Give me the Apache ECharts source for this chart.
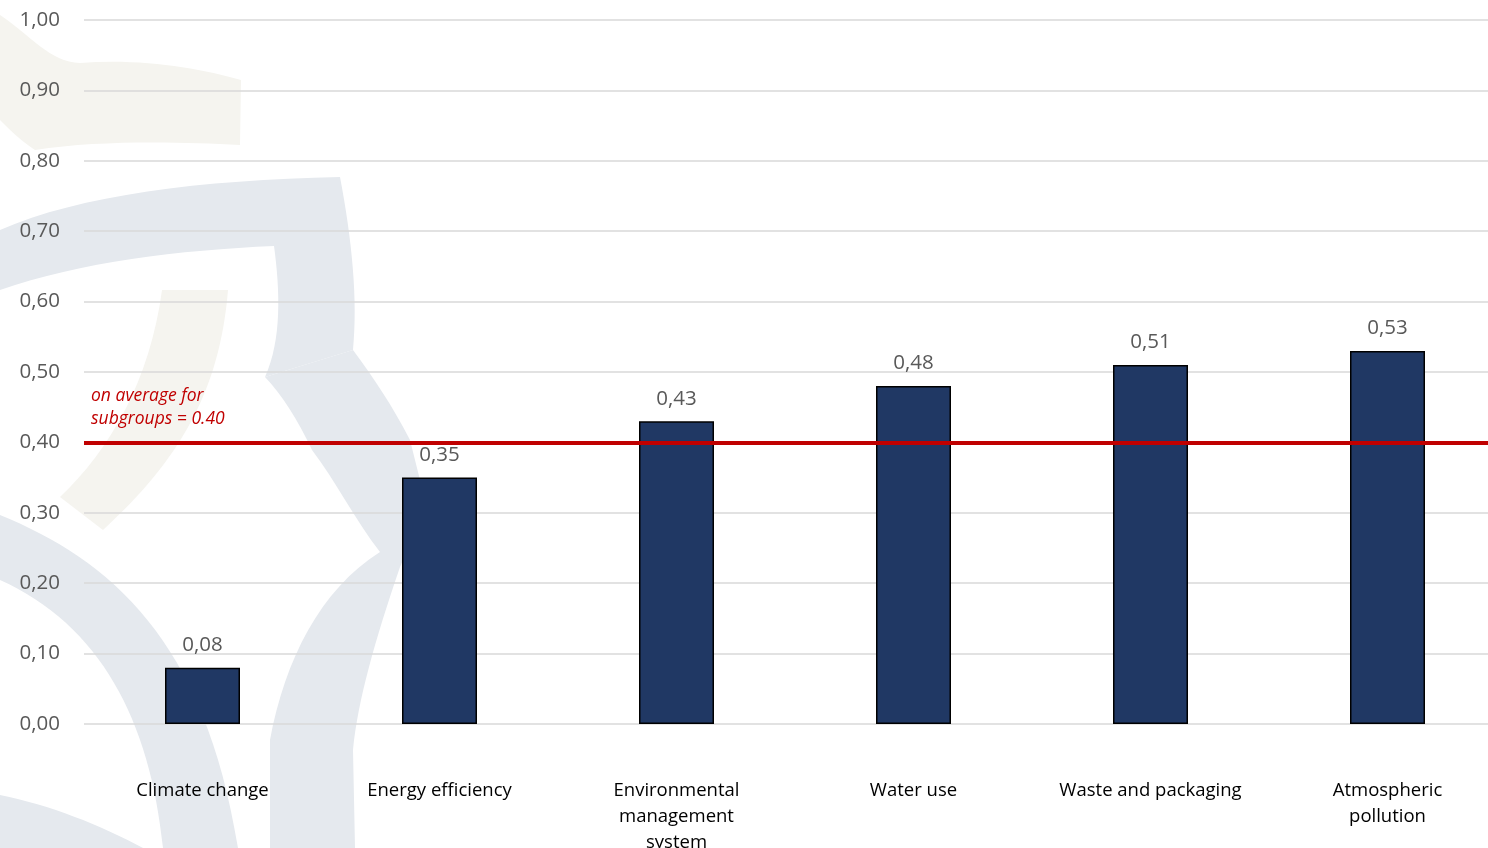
<!DOCTYPE html>
<html>
<head>
<meta charset="utf-8">
<title>Environmental subgroups</title>
<script src="https://cdn.jsdelivr.net/npm/echarts@6/dist/echarts.min.js"></script>
<style>
  html, body { margin: 0; padding: 0; background: #ffffff; }
  #chart { width: 1488px; height: 848px; }
</style>
</head>
<body>
<div id="chart"></div>
<script>
// Subgroup scores
const categories = [
  'Climate change',
  'Energy efficiency',
  'Environmental\nmanagement\nsystem',
  'Water use',
  'Waste and packaging',
  'Atmospheric\npollution'
];
const scores = [0.08, 0.35, 0.43, 0.48, 0.51, 0.53];
const subgroupAverage = 0.40;
const averageLabel = 'on average for\nsubgroups = 0.40';

const FONT = '"Open Sans", "Noto Sans", sans-serif';
const fmt = v => v.toFixed(2).replace('.', ',');

// Faint logo artwork behind the plot
const GREY = '#e5e9ee';
const BEIGE = '#f5f4ef';
const backdrop = [
  { fill: BEIGE, d: 'M0,15 C30,35 50,62 80,63 C140,58 200,68 241,80 L240,145 C180,142 100,140 35,150 C20,140 10,130 0,120 Z' },
  { fill: BEIGE, d: 'M162,290 L228,290 C220,390 180,460 103,530 L60,497 C110,450 150,380 162,290 Z' },
  { fill: GREY, d: 'M0,230 C80,195 200,180 340,177 C352,240 358,300 353,350 L265,377 C282,340 280,290 274,246 C180,250 80,262 0,290 Z' },
  { fill: GREY, d: 'M265,377 L353,350 C375,380 392,405 410,440 L430,520 C415,540 405,555 400,567 C375,640 358,700 353,750 L355,848 L270,848 L270,740 C285,660 320,590 380,552 C355,520 335,480 312,450 C298,420 282,395 265,377 Z' },
  { fill: GREY, d: 'M0,515 C110,560 205,640 238,848 L163,848 C150,720 100,625 0,580 Z' },
  { fill: GREY, d: 'M0,795 C50,805 100,825 143,848 L0,848 Z' }
];

const chart = echarts.init(document.getElementById('chart'), null, { renderer: 'canvas' });

chart.setOption({
  animation: false,
  backgroundColor: '#ffffff',
  grid: { left: 84, right: -18, top: 20, bottom: 124, outerBoundsMode: 'none', containLabel: false },
  xAxis: {
    type: 'category',
    data: categories,
    axisLine: { show: false },
    axisTick: { show: false },
    axisLabel: {
      interval: 0,
      margin: 54,
      color: '#000000',
      fontFamily: FONT,
      fontSize: 18.5,
      lineHeight: 26,
      align: 'center'
    }
  },
  yAxis: {
    type: 'value',
    min: 0,
    max: 1,
    interval: 0.1,
    axisLine: { show: false },
    axisTick: { show: false },
    axisLabel: {
      margin: 24,
      color: '#595959',
      fontFamily: FONT,
      fontSize: 20.5,
      formatter: v => fmt(v)
    },
    splitLine: { lineStyle: { color: '#d9d9d9', width: 1.5 } }
  },
  series: [
    {
      // logo artwork, drawn under everything else
      type: 'custom',
      coordinateSystem: 'none',
      silent: true,
      z: -10,
      data: [0],
      renderItem: () => ({
        type: 'group',
        children: backdrop.map(s => ({
          type: 'path',
          shape: { pathData: s.d },
          style: { fill: s.fill }
        }))
      })
    },
    {
      // average reference line, kept behind the bars
      type: 'line',
      data: [],
      z: 1,
      silent: true,
      markLine: {
        silent: true,
        symbol: 'none',
        lineStyle: { color: '#c00000', width: 4, type: 'solid' },
        label: {
          show: true,
          position: 'insideStartTop',
          formatter: averageLabel,
          color: '#c00000',
          fontFamily: FONT,
          fontStyle: 'italic',
          fontSize: 17.5,
          lineHeight: 23,
          align: 'left',
          distance: [7, 12]
        },
        data: [{ yAxis: subgroupAverage }]
      }
    },
    {
      type: 'bar',
      data: scores,
      z: 3,
      barWidth: 75,
      itemStyle: { color: '#203864', borderColor: '#000000', borderWidth: 1.5 },
      label: {
        show: true,
        position: 'top',
        distance: 12,
        color: '#595959',
        fontFamily: FONT,
        fontSize: 20.5,
        formatter: p => fmt(p.value)
      }
    }
  ]
});
</script>
</body>
</html>
